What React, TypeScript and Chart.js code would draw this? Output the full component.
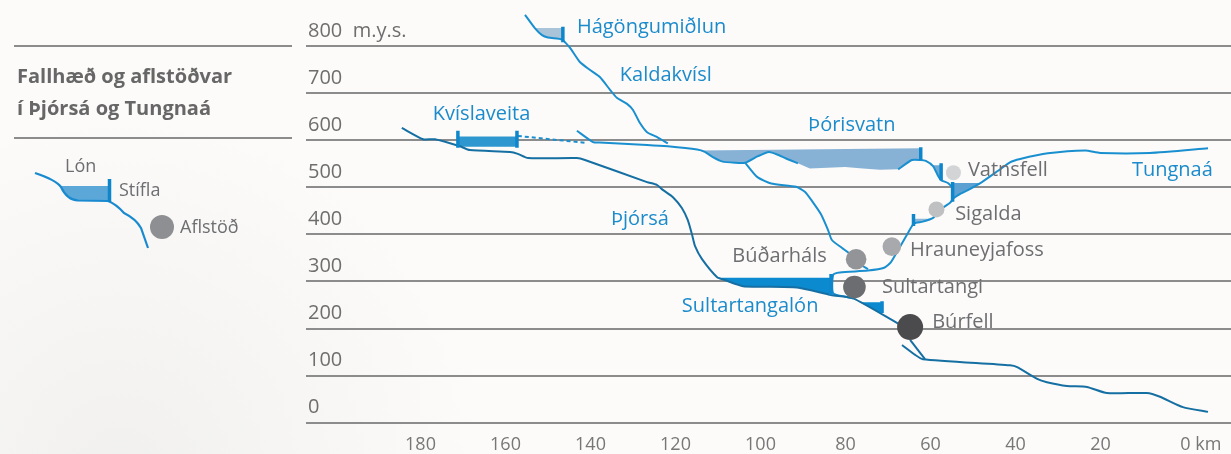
import { useEffect, useRef } from 'react';
import { Chart, registerables } from 'chart.js';

Chart.register(...registerables);

const FONT = '"Open Sans", "Noto Sans", sans-serif';

// ---- axis ticks ----
const xTickValues = [0, 20, 40, 60, 80, 100, 120, 140, 160, 180];
const yTickValues = [0, 100, 200, 300, 400, 500, 600, 700, 800];

// ---- river profiles (km from the sea, metres above sea level) ----
const thjorsaUpperKm = [184.4, 179.4, 176.6, 170.7, 168.4, 158.9, 157.1, 154.7, 143.2, 141.3, 126.7, 124.4, 122.9, 120.6, 118.5, 117.1, 116.1, 115.4, 113.8, 110.2, 108.4, 104.1, 91.4, 83.4, 78.2, 67.9, 66.0];
const thjorsaUpperM = [626, 602, 602, 587, 579, 575, 571, 562, 562, 558, 511, 505, 494, 479, 456, 430, 399, 375, 348, 309, 303, 290, 287, 271, 264, 212, 203];

const thjorsaLowerKm = [66.7, 63.6, 61.8, 41.3, 39.6, 34.9, 32.6, 27.9, 23.2, 18.5, 9.1, 6.0, 0.6, -5.3];
const thjorsaLowerM = [165, 144, 135, 122, 118, 93, 86, 78, 76, 63, 63, 55, 33, 23];

const burfellTailKm = [64.8, 61.3];
const burfellTailM = [176, 135];

const kaldakvislKm = [155.4, 153.1, 151.4, 150.0, 146.7, 145.8, 144.8, 142.5, 140.1, 137.8, 135.4, 133.8, 131.4, 130.0, 128.4, 126.7, 124.4, 121.8];
const kaldakvislM = [866, 838, 823, 818, 814, 806, 796, 766, 749, 734, 707, 690, 677, 664, 637, 617, 607, 593];

const kvislKm = [143.2, 139.4, 137.8, 126.7, 121.8, 114.9, 113.1, 111.2, 109.1, 106.0, 103.6, 100.6, 98.0, 95.9, 94.0, 91.2];
const kvislM = [620, 596, 595, 590, 587, 580, 575, 564, 555, 552, 552, 566, 575, 569, 561, 551];

const kvislDashKm = [157.1, 140.8];
const kvislDashM = [609, 594];

const budarhalsKm = [103.6, 100.8, 97.5, 91.6, 89.5, 87.9, 85.8, 84.1, 83.2, 80.8, 78.9, 77.1, 74.7];
const budarhalsM = [552, 522, 508, 501, 490, 471, 443, 409, 388, 371, 358, 339, 326];

const tungnaaKm = [-5.3, 8.4, 20.1, 23.6, 32.4, 38.9, 41.3, 44.1, 47.9, 51.2, 52.8, 54.5, 55.4, 57.8, 59.4, 61.8, 63.9, 65.3, 67.6, 69.3, 70.9, 74.7, 81.3, 82.9, 82.9, 79.6, 78.2];
const tungnaaM = [583, 573, 573, 578, 572, 560, 553, 535, 511, 494, 487, 477, 467, 452, 435, 427, 423, 403, 367, 341, 329, 323, 319, 314, 275, 267, 264];

const vatnsfellKm = [67.6, 64.4, 62.3, 61.1, 59.4, 58.2, 57.5, 55.9, 54.7];
const vatnsfellM = [538, 558, 558, 556, 545, 524, 515, 509, 498];

// ---- reservoirs (outline polygons) ----
const hagongKm = [153.1, 146.5, 146.5, 150.0, 151.4];
const hagongM = [838, 838, 814, 818, 823];
const kvislPoolKm = [171.2, 157.3, 157.3, 171.2];
const kvislPoolM = [608, 608, 586, 586];
const thorisKm = [114.5, 62.3, 62.3, 64.4, 67.6, 71.9, 75.9, 80.1, 88.4, 91.2, 94.0, 95.9, 98.0, 100.6, 103.6, 106.0, 109.1, 111.2, 113.1];
const thorisM = [578, 583, 558, 558, 538, 537, 540, 543, 540, 551, 561, 569, 575, 566, 552, 552, 555, 564, 575];
const vatnsPoolKm = [60.1, 57.5, 57.5, 58.2, 59.4];
const vatnsPoolM = [547, 547, 515, 524, 545];
const sigoldKm = [54.9, 48.1, 51.2, 52.8, 54.5, 54.9];
const sigoldM = [509, 509, 494, 487, 477, 473];
const kroksKm = [63.9, 59.9, 61.8, 63.9];
const kroksM = [433, 433, 427, 423];
const sultPoolKm = [110.0, 83.4, 83.4, 91.4, 104.1, 108.4];
const sultPoolM = [308, 308, 271, 287, 290, 303];
const bjarnaKm = [76.6, 71.4, 71.4];
const bjarnaM = [256, 256, 231];

// ---- dams ----
const damKm = [146.5, 171.2, 157.3, 62.3, 57.5, 54.8, 64.0, 83.4, 71.4];
const damTopM = [841, 620, 620, 585, 551, 511, 443, 316, 258];
const damBottomM = [808, 584, 584, 558, 515, 469, 418, 271, 233];

// ---- power stations ----
const stationNames = ['Vatnsfell', 'Sigalda', 'Hrauneyjafoss', 'Búðarháls', 'Sultartangi', 'Búrfell'];
const stationKm = [54.6, 58.6, 69.1, 77.5, 77.9, 64.8];
const stationM = [531, 453, 374, 347, 288, 203];
const stationLabelKm = [51.2, 54.2, 64.8, 84.4, 71.4, 59.6];
const stationLabelM = [536, 442, 367, 353, 288, 213];
const stationLabelAlign = ['left', 'left', 'left', 'right', 'left', 'left'];
const stationRadius = [7.5, 8, 9.3, 10.3, 11.3, 13];
const stationColor = ['#d2d4d5', '#bec0c2', '#a7a9ac', '#929497', '#6c6d70', '#4b4b4e'];

// ---- water names ----
const waterNames = ['Hágöngumiðlun', 'Kaldakvísl', 'Kvíslaveita', 'Þórisvatn', 'Þjórsá', 'Sultartangalón', 'Tungnaá'];
const waterLabelKm = [143.2, 133.1, 177.1, 88.8, 135.2, 118.5, 12.6];
const waterLabelM = [840, 738, 654, 631, 431, 248, 537];

const titleLines = ['Fallhæð og aflstöðvar', 'í Þjórsá og Tungnaá'];
const legendLabels = ['Lón', 'Stífla', 'Aflstöð'];

const BLUE = '#1a8fd0';
const DARK_BLUE = '#156fa3';
const DAM_COLOR = '#0e86cc';
const BLUE_TEXT = '#1b8bcc';
const GRAY_TEXT = '#6d6e71';

export default function App() {
  const canvasRef = useRef<HTMLCanvasElement | null>(null);

  useEffect(() => {
    const canvas = canvasRef.current;
    if (!canvas) return;
    const pts = (xs: number[], ys: number[]) => xs.map((x, i) => ({ x, y: ys[i] }));
    const river = (label: string, xs: number[], ys: number[], color: string, extra: any = {}) => ({
      type: 'line', label, data: pts(xs, ys), borderColor: color, backgroundColor: color,
      borderWidth: 2, pointRadius: 0, pointHoverRadius: 0, tension: 0.2, fill: false, order: 2, ...extra,
    });
    const pool = (label: string, xs: number[], ys: number[], color: string) => ({
      type: 'line', label, data: pts(xs, ys), borderColor: 'rgba(0,0,0,0)', borderWidth: 0,
      backgroundColor: color, pointRadius: 0, pointHoverRadius: 0, tension: 0, fill: 'shape', order: 3,
    });
    const dams = damKm.map((k, i) => ({
      type: 'line', label: 'Stífla ' + (i + 1), data: [{ x: k, y: damTopM[i] }, { x: k, y: damBottomM[i] }],
      borderColor: DAM_COLOR, borderWidth: 3.5, borderCapStyle: 'butt', pointRadius: 0, pointHoverRadius: 0,
      tension: 0, fill: false, order: 1,
    }));

    const datasets: any[] = [
      pool('Hágöngumiðlun', hagongKm, hagongM, '#a9c3d9'),
      pool('Kvíslaveita', kvislPoolKm, kvislPoolM, '#2f97cf'),
      pool('Þórisvatn', thorisKm, thorisM, '#87b2d6'),
      pool('Vatnsfell lón', vatnsPoolKm, vatnsPoolM, '#72a9d4'),
      pool('Sigöldulón', sigoldKm, sigoldM, '#5ca1d1'),
      pool('Krókslón', kroksKm, kroksM, '#8db7d9'),
      pool('Sultartangalón', sultPoolKm, sultPoolM, '#0b8ad0'),
      pool('Bjarnalón', bjarnaKm, bjarnaM, '#0b8ad0'),
      river('Þjórsá efri', thjorsaUpperKm, thjorsaUpperM, DARK_BLUE),
      river('Þjórsá neðri', thjorsaLowerKm, thjorsaLowerM, DARK_BLUE),
      river('Búrfell frárennsli', burfellTailKm, burfellTailM, DARK_BLUE, { tension: 0 }),
      river('Kaldakvísl', kaldakvislKm, kaldakvislM, BLUE),
      river('Kvíslaveita', kvislKm, kvislM, BLUE),
      river('Kvíslaveita skurður', kvislDashKm, kvislDashM, BLUE, { borderDash: [4, 3], tension: 0 }),
      river('Búðarháls', budarhalsKm, budarhalsM, BLUE),
      river('Tungnaá', tungnaaKm, tungnaaM, BLUE),
      river('Vatnsfell', vatnsfellKm, vatnsfellM, BLUE),
      ...dams,
      {
        type: 'line', label: 'Aflstöðvar', data: pts(stationKm, stationM), showLine: false,
        pointRadius: stationRadius, pointHoverRadius: stationRadius, pointBackgroundColor: stationColor,
        pointBorderWidth: 0, pointBorderColor: 'rgba(0,0,0,0)', order: 0,
      },
    ];

    const decor = {
      id: 'decor',
      beforeDraw(chart: any) {
        const { ctx, width, height } = chart;
        ctx.save();
        ctx.fillStyle = '#fcfbf9';
        ctx.fillRect(0, 0, width, height);
        const g = ctx.createRadialGradient(120, 470, 10, 120, 470, 360);
        g.addColorStop(0, 'rgba(230,230,230,0.5)');
        g.addColorStop(1, 'rgba(230,230,230,0)');
        ctx.fillStyle = g;
        ctx.fillRect(0, 0, width, height);
        ctx.restore();
      },
      afterDatasetsDraw(chart: any) {
        const { ctx } = chart;
        const xs = chart.scales.x;
        const ys = chart.scales.y;
        ctx.save();
        ctx.textBaseline = 'middle';
        ctx.font = `20px ${FONT}`;
        ctx.fillStyle = BLUE_TEXT;
        ctx.textAlign = 'left';
        waterNames.forEach((t, i) => {
          ctx.fillText(t, xs.getPixelForValue(waterLabelKm[i]), ys.getPixelForValue(waterLabelM[i]));
        });
        ctx.fillStyle = GRAY_TEXT;
        stationNames.forEach((t, i) => {
          ctx.textAlign = stationLabelAlign[i];
          ctx.fillText(t, xs.getPixelForValue(stationLabelKm[i]), ys.getPixelForValue(stationLabelM[i]));
        });
        ctx.restore();
      },
      afterDraw(chart: any) {
        const { ctx } = chart;
        const xs = chart.scales.x;
        ctx.save();
        // "km" unit after the 0 tick label
        const items = xs.getLabelItems();
        const zero = items.find((it: any) => String(it.label) === '0');
        if (zero) {
          ctx.font = `18px ${FONT}`;
          ctx.fillStyle = '#777777';
          ctx.textAlign = 'left';
          ctx.textBaseline = zero.options.textBaseline;
          const w0 = ctx.measureText('0 ').width;
          const px = zero.options.translation[0];
          ctx.fillText('km', px - ctx.measureText('0').width / 2 + w0, zero.options.translation[1] + zero.textOffset);
        }
        // title block
        ctx.strokeStyle = '#8c8c8c';
        ctx.lineWidth = 2;
        ctx.beginPath();
        ctx.moveTo(14, 46); ctx.lineTo(292, 46);
        ctx.moveTo(14, 138); ctx.lineTo(292, 138);
        ctx.stroke();
        ctx.fillStyle = '#676767';
        ctx.font = `bold 20px ${FONT}`;
        ctx.textAlign = 'left';
        ctx.textBaseline = 'middle';
        ctx.fillText(titleLines[0], 17, 77);
        ctx.fillText(titleLines[1], 17, 109);
        // legend key
        ctx.fillStyle = '#5ba8d8';
        ctx.beginPath();
        ctx.moveTo(60, 186); ctx.lineTo(108.5, 186); ctx.lineTo(108.5, 201);
        ctx.lineTo(74, 200); ctx.quadraticCurveTo(67, 198, 64, 191); ctx.closePath();
        ctx.fill();
        ctx.strokeStyle = '#1a8ad0';
        ctx.lineWidth = 2.2;
        ctx.beginPath();
        ctx.moveTo(35, 173);
        ctx.quadraticCurveTo(56, 180, 61, 187);
        ctx.quadraticCurveTo(67, 200, 78, 200.5);
        ctx.lineTo(108, 201);
        ctx.quadraticCurveTo(116, 204, 124, 213);
        ctx.quadraticCurveTo(136, 219, 141, 228);
        ctx.lineTo(148, 248);
        ctx.stroke();
        ctx.strokeStyle = DAM_COLOR;
        ctx.lineWidth = 3.5;
        ctx.beginPath();
        ctx.moveTo(109.5, 179); ctx.lineTo(109.5, 202);
        ctx.stroke();
        ctx.fillStyle = '#8d8f92';
        ctx.beginPath();
        ctx.arc(162, 227, 12, 0, Math.PI * 2);
        ctx.fill();
        ctx.fillStyle = GRAY_TEXT;
        ctx.font = `18px ${FONT}`;
        ctx.fillText(legendLabels[0], 65, 167);
        ctx.fillText(legendLabels[1], 119, 191);
        ctx.fillText(legendLabels[2], 180, 228);
        ctx.restore();
      },
    };

    const chart = new Chart(canvas, {
      type: 'line',
      data: { datasets },
      options: {
        responsive: false,
        devicePixelRatio: 1,
        animation: false,
        events: [],
        layout: { padding: { left: 306, right: 0, top: 0, bottom: 0 }, autoPadding: false },
        plugins: { legend: { display: false }, tooltip: { enabled: false } },
        scales: {
          x: {
            type: 'linear',
            reverse: true,
            min: -10.706,
            max: 206.94,
            afterBuildTicks: (s: any) => { s.ticks = xTickValues.map((v) => ({ value: v })); },
            afterFit: (s: any) => { s.height = 31.3; s.paddingLeft = 0; s.paddingRight = 0; },
            grid: { display: false, drawTicks: false },
            border: { display: false },
            ticks: {
              padding: 11, color: '#777777', autoSkip: false, maxRotation: 0,
              font: { family: FONT, size: 18 },
              callback: (v: any) => String(v),
            },
          },
          y: {
            type: 'linear',
            min: 0,
            max: 897.7,
            afterBuildTicks: (s: any) => { s.ticks = yTickValues.map((v) => ({ value: v })); },
            afterFit: (s: any) => { s.width = 0; s.paddingTop = 0; s.paddingBottom = 0; },
            grid: { color: '#8c8c8c', lineWidth: 2, drawTicks: false },
            border: { display: false },
            ticks: {
              mirror: true, padding: 2, labelOffset: -15, color: '#6e6e6e',
              font: { family: FONT, size: 20 },
              callback: (v: any) => (v === 800 ? '800  m.y.s.' : String(v)),
            },
          },
        },
      } as any,
      plugins: [decor],
    } as any);

    return () => chart.destroy();
  }, []);

  return (
    <div style={{ position: 'fixed', left: 0, top: 0, width: 1231, height: 454, background: '#fcfbf9' }}>
      <canvas ref={canvasRef} width={1231} height={454} style={{ display: 'block', width: 1231, height: 454 }} />
    </div>
  );
}
